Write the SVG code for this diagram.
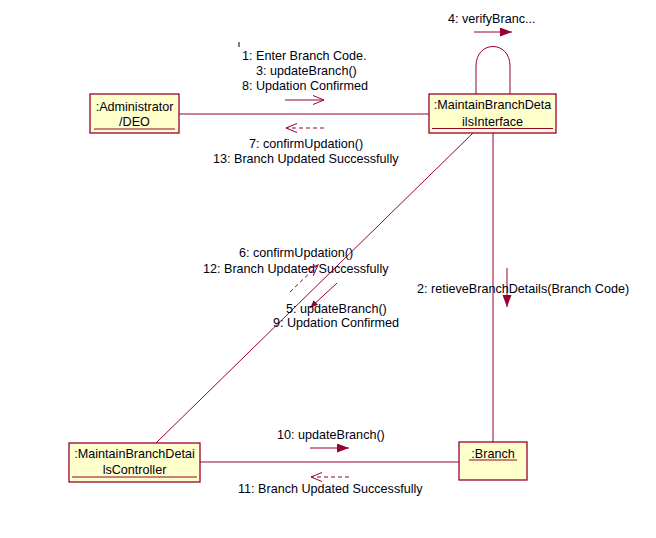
<svg xmlns="http://www.w3.org/2000/svg" width="656" height="538" viewBox="0 0 656 538">
<style>
.box{fill:#ffffcc;stroke:#990033;stroke-width:1.3}
.ul{stroke:#990033;stroke-width:1.2}
.ln{stroke:#990033;stroke-width:1;fill:none}
.dash{stroke:#990033;stroke-width:1;fill:none;stroke-dasharray:4,3}
text{font-family:"Liberation Sans",Arial,sans-serif;font-size:12.6px;fill:#000010}
.c{text-anchor:middle}
</style>
<defs>
<marker id="fill" markerUnits="userSpaceOnUse" markerWidth="13" markerHeight="10" refX="12" refY="4.5" orient="auto">
<path d="M0,0 L12,4.5 L0,9 z" fill="#990033"/>
</marker>
<marker id="small" markerUnits="userSpaceOnUse" markerWidth="9" markerHeight="7" refX="8" refY="3" orient="auto">
<path d="M0,0 L8,3 L0,6 z" fill="#990033"/>
</marker>
<marker id="open" markerUnits="userSpaceOnUse" markerWidth="13" markerHeight="11" refX="11.5" refY="5" orient="auto">
<path d="M0.5,0.5 L11.5,5 L0.5,9.5" fill="none" stroke="#990033" stroke-width="1"/>
</marker>
</defs>
<rect width="656" height="538" fill="#ffffff"/>
<g id="connectors">
<line class="ln" x1="179" y1="114" x2="429" y2="114"/>
<path class="ln" d="M476,94 L476,66 C476,40 510,40 510,66 L510,94"/>
<line class="ln" x1="473" y1="133" x2="156" y2="443"/>
<line class="ln" x1="493" y1="133" x2="493" y2="442"/>
<line class="ln" x1="200" y1="462" x2="459" y2="462"/>
</g>
<g id="messages">
<line x1="239" y1="42" x2="239" y2="47" stroke="#000" stroke-width="1"/>
<text x="242" y="60">1: Enter Branch Code.</text>
<text x="256" y="75">3: updateBranch()</text>
<text x="242" y="90">8: Updation Confirmed</text>
<line class="ln" x1="285" y1="100" x2="324" y2="100" marker-end="url(#open)"/>
<line class="dash" x1="324" y1="128" x2="286" y2="128" marker-end="url(#open)"/>
<text x="249" y="148">7: confirmUpdation()</text>
<text x="213" y="163">13: Branch Updated Successfully</text>
<text x="448" y="23">4: verifyBranc...</text>
<line class="ln" x1="474" y1="32" x2="512" y2="32" marker-end="url(#fill)"/>
<line class="ln" x1="507" y1="268" x2="507" y2="307" marker-end="url(#fill)"/>
<text x="417" y="293">2: retieveBranchDetails(Branch Code)</text>
<text x="239" y="257">6: confirmUpdation()</text>
<text x="203" y="273">12: Branch Updated Successfully</text>
<line class="dash" x1="290" y1="292" x2="318" y2="265" marker-end="url(#open)"/>
<line class="ln" x1="337" y1="283" x2="310" y2="308" marker-end="url(#small)"/>
<text x="286" y="313">5: updateBranch()</text>
<text x="273" y="327">9: Updation Confirmed</text>
<text x="277" y="439">10: updateBranch()</text>
<line class="ln" x1="310" y1="448" x2="349" y2="448" marker-end="url(#fill)"/>
<line class="dash" x1="349" y1="477" x2="311" y2="477" marker-end="url(#open)"/>
<text x="238" y="493">11: Branch Updated Successfully</text>
</g>
<g id="administrator">
<rect class="box" x="90" y="94" width="89" height="39"/>
<text class="c" x="134.5" y="111">:Administrator</text>
<text class="c" x="134.5" y="126">/DEO</text>
<line class="ul" x1="94" y1="129" x2="175" y2="129"/>
</g>
<g id="interface">
<rect class="box" x="429" y="94" width="127" height="39"/>
<text class="c" x="492.5" y="109">:MaintainBranchDeta</text>
<text class="c" x="492.5" y="126">ilsInterface</text>
<line class="ul" x1="432" y1="128.5" x2="553" y2="128.5"/>
</g>
<g id="controller">
<rect class="box" x="69" y="443" width="131" height="39"/>
<text class="c" x="134.5" y="458">:MaintainBranchDetai</text>
<text class="c" x="134.5" y="474">lsController</text>
<line class="ul" x1="72" y1="477" x2="197" y2="477"/>
</g>
<g id="branch">
<rect class="box" x="459" y="442" width="68" height="38"/>
<text class="c" x="493" y="458">:Branch</text>
<line class="ul" x1="469" y1="460" x2="517" y2="460"/>
</g>
</svg>
